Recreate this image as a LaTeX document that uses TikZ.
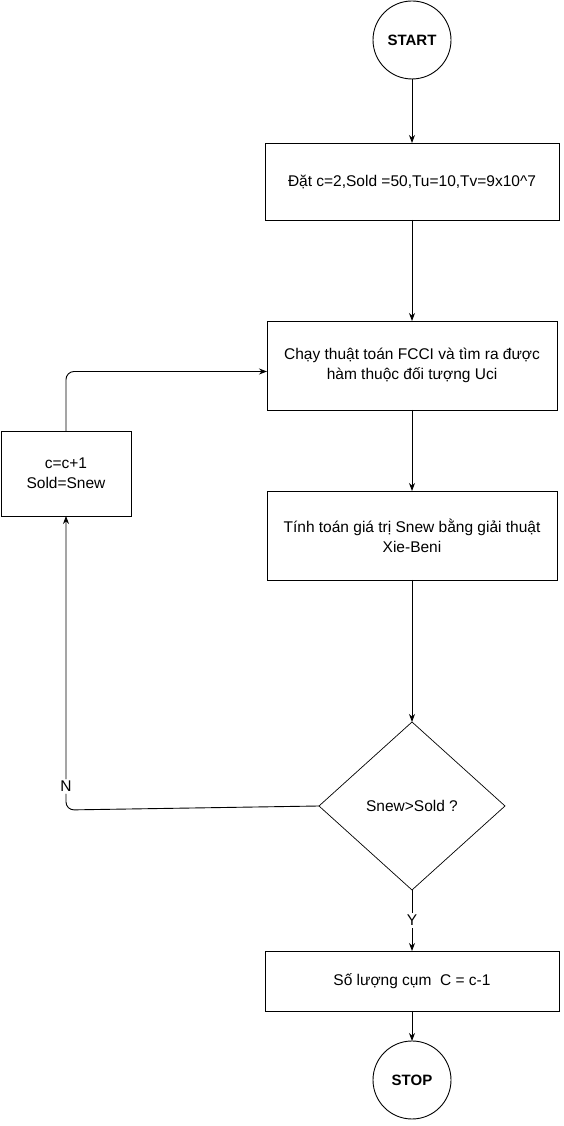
\documentclass[tikz,border=0pt]{standalone}
\usepackage{fontspec}
\setmainfont{Liberation Sans}
\usetikzlibrary{arrows.meta, positioning, shapes.geometric}

\begin{document}
\begin{tikzpicture}[
    x=1pt, y=1pt,
    every node/.style={
        font=\fontsize{15.5}{20}\selectfont
    },
    terminal/.style={
        circle,
        draw=black,
        line width=0.9pt,
        minimum size=78pt,
        inner sep=0pt,
        outer sep=0pt,
        font=\fontsize{15}{18}\selectfont\bfseries
    },
    box/.style={
        rectangle,
        draw=black,
        line width=0.9pt,
        align=center,
        outer sep=0pt,
        minimum width=294pt,
        minimum height=77pt
    },
    decision/.style={
        diamond,
        draw=black,
        line width=0.7pt,
        align=center,
        minimum width=186pt,
        minimum height=168pt,
        inner sep=0pt,
        outer sep=0pt
    },
    lbl/.style={fill=white, inner sep=2pt},
    arrow/.style={-{Stealth[length=8pt, width=6pt]}, line width=0.9pt}
]

\fill[white] (0,0) rectangle (563,1126);

% ---------------- Luong chinh ----------------
\node[terminal] (start) at (412,1086) {START};
\node[box, below=64pt of start] (init) {Đặt c=2,Sold =50,Tu=10,Tv=9x10\^{}7};
\node[box, below=101pt of init, minimum width=290pt, minimum height=89pt] (fcci)
    {Chạy thuật toán FCCI và tìm ra được\\hàm thuộc đối tượng Uci};
\node[box, below=81pt of fcci, minimum width=290pt, minimum height=89pt] (xie)
    {Tính toán giá trị Snew bằng giải thuật\\Xie-Beni};
\node[decision, below=142pt of xie] (test) {Snew>Sold ?};
\node[box, below=61pt of test, minimum height=60pt] (count) {Số lượng cụm \ C = c-1};
\node[terminal, below=30pt of count] (stop) {STOP};

\draw[arrow] (start) -- (init);
\draw[arrow] (init) -- (fcci);
\draw[arrow] (fcci) -- (xie);
\draw[arrow] (xie) -- (test);
\draw[arrow] (test) -- node[lbl] {Y} (count);
\draw[arrow] (count) -- (stop);

% ---------------- Vong lap ----------------
\node[box, minimum width=130pt, minimum height=85pt] (update) at (66,652.5) {c=c+1\\Sold=Snew};
\coordinate (nbend) at (66,316);

\draw[arrow, rounded corners=8pt] (test.west) -- (nbend) -- node[lbl, pos=0.08] {N} (update.south);
\draw[arrow, rounded corners=8pt] (update.north) |- ([yshift=-6pt]fcci.west);

\end{tikzpicture}
\end{document}
